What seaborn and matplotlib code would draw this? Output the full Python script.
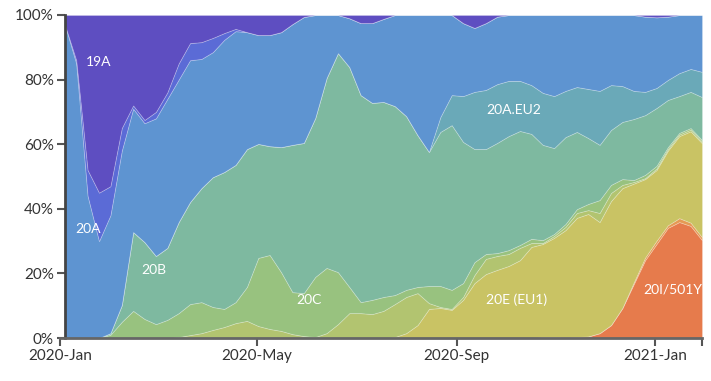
import numpy as np
import pandas as pd
import matplotlib
matplotlib.use("Agg")
import matplotlib.pyplot as plt
from matplotlib.ticker import PercentFormatter, FixedLocator
import seaborn as sns

# weekly clade frequencies (percent)
weeks = pd.date_range("2020-01-04", periods=57, freq="7D")

clade_20I = [0] * 42 + [0.3, 0.3, 0.2, 0.3, 0.5, 1.5, 4, 9.3, 16.7, 24.1, 29.1, 34.1, 35.9, 34.7, 30.3]
clade_20H = [0] * 50 + [0.5, 0.8, 1, 0.8, 1.2, 1, 0.9]
clade_20E = [0] * 29 + [0.3, 1.5, 4, 9, 9.3, 8.7, 11.8, 17, 19.8, 21.1, 22.3, 24.1, 28.2, 28.8,
                        30.7, 33.2, 36.9, 37.9, 34.4, 38.4, 37.1, 30.6, 24.3, 21.9, 23.1, 25.4, 28.3, 29.1]
clade_20D = [0] * 10 + [0.3, 0.9, 1.5, 2.5, 3.4, 4.6, 5.3, 3.7, 2.8, 2.2, 1.2, 0.6, 0.3, 1.5, 4.3,
                        7.7, 7.7, 7.4, 8.4, 10.2, 11.2, 9.9, 1.8, 0.3, 0.3, 0.9, 2.5, 4.7, 4.3, 3.7,
                        3.8, 1.2, 0.3, 0.6, 1, 1.5, 1.2, 2.8, 2.5, 1, 0.5, 0.3, 0.5, 0.5, 0.5, 0.5, 0.5]
clade_20C = [0] * 4 + [1, 5, 8.4, 5.9, 4.3, 5.6, 7.4, 9.6, 9.6, 7.1, 5.6, 6.5, 10.5, 21.1, 22.9,
                       18.2, 13, 13.3, 18.6, 20.2, 16.1, 8.1, 3.4, 4.4, 4.3, 2.8, 2.2, 1.9, 5.3, 6.5,
                       5.9, 4.3, 4, 1.5, 0.9, 1.2, 0.9, 1.3, 0.9, 0.6, 0.9, 1.2, 1.9, 4, 2.5, 1.8,
                       0.6, 1, 0.8, 0.6, 0.5, 0.5, 0.5]
clade_20B = [0] * 4 + [0.5, 5.2, 24.4, 23.8, 21.1, 22.3, 28.2, 31.6, 35.3, 40.2, 42.4, 42.5, 42.7,
                       35.3, 33.7, 38.7, 45.6, 46.5, 49.2, 58.8, 67.8, 68.1, 64.1, 61, 60.4, 58.5,
                       53.8, 47, 41.5, 47.7, 51, 43.7, 35, 32.5, 34.1, 35.3, 35.3, 32.5, 29.5, 26.6,
                       26.9, 23.9, 20.4, 17.1, 17, 17.7, 18.9, 18.5, 17.9, 14.6, 11.4, 11.2, 13.3]
clade_20A_EU2 = [0] * 33 + [4.6, 9.3, 14.2, 17.7, 18.3, 18.2, 17.1, 15.5, 15.1, 16.1, 16.1, 14.3,
                            13.9, 15.2, 16.7, 13.9, 11.1, 8.7, 7.2, 6.2, 6.2, 7.1, 7.1, 7.8]
clade_20A = [97, 85, 44, 30, 36.5, 47.8, 38.2, 36.8, 42.6, 46.1, 44.1, 43.9, 40, 38.7, 40.9, 41.4,
             36.2, 33.7, 34.4, 35.6, 37.4, 39, 31.9, 19.5, 11.8, 15.1, 22.3, 24.7, 25.7, 28.2,
             31.3, 37.2, 42.4, 31.6, 24.8, 22.6, 19.8, 20.7, 20.9, 20.4, 20.4, 21.7, 24.1, 25.1,
             23.5, 22.3, 22.9, 23.5, 21.7, 22, 23.5, 23.3, 21.9, 19.6, 18, 16.7, 17.6]
clade_19B = [0, 1, 8, 15, 9, 7, 1, 1, 2, 2, 5, 5.3, 5.2, 4.4, 2.1, 0.7] + [0] * 41

clade_names = ["20I/501Y.V1", "20H/501Y.V2", "20E (EU1)", "20D", "20C", "20B",
               "20A.EU2", "20A", "19B", "19A"]
clade_colors = ["#E67B4C", "#E59A54", "#C9C364", "#B2C470", "#98C27F", "#7EB9A0",
                "#6AA9B8", "#5E94D1", "#5B6BD6", "#5E4EC1"]

stack = np.array([clade_20I, clade_20H, clade_20E, clade_20D, clade_20C,
                  clade_20B, clade_20A_EU2, clade_20A, clade_19B], dtype=float)
clade_19A = np.clip(100 - stack.sum(axis=0), 0, None)
stack = np.vstack([stack, clade_19A])
stack = stack / stack.sum(axis=0) * 100

sns.set_theme(style="ticks")
plt.rcParams["font.family"] = ["Lato", "DejaVu Sans"]

fig = plt.figure(figsize=(7.11, 3.81), dpi=100)
ax = fig.add_axes([60 / 711, 1 - 338 / 381, (702 - 60) / 711, (338 - 15) / 381])

ax.stackplot(weeks, stack, colors=clade_colors, labels=clade_names,
             linewidth=0.6, edgecolor=(1, 1, 1, 0.25))

ax.set_xlim(pd.Timestamp("2020-01-01"), weeks[-1])
ax.set_ylim(0, 100)
ax.yaxis.set_major_locator(FixedLocator([0, 20, 40, 60, 80, 100]))
ax.yaxis.set_major_formatter(PercentFormatter(decimals=0))

tick_dates = pd.to_datetime(["2020-01-01", "2020-05-01", "2020-09-01", "2021-01-01"])
ax.set_xticks(tick_dates)
ax.set_xticklabels(["2020-Jan", "2020-May", "2020-Sep", "2021-Jan"])
ax.set_xticks([weeks[-1]], minor=True)

ax.tick_params(axis="both", which="both", length=6, width=1.5, color="#555555",
               labelsize=11, labelcolor="#333333", pad=2)
sns.despine(ax=ax)
# y axis sits where the data starts, like the original d3 axis
ax.spines["left"].set_position(("data", mdates_num := matplotlib.dates.date2num(weeks[0])))
ax.spines["left"].set_color("#444444")
ax.spines["left"].set_linewidth(2)
ax.spines["bottom"].set_color("#666666")
ax.spines["bottom"].set_linewidth(2)

# in-area clade labels
labels = [
    ("19A", "2020-01-25", 85.5, "center"),
    ("20A", "2020-01-18", 33.7, "center"),
    ("20B", "2020-02-28", 21.0, "center"),
    ("20C", "2020-06-02", 11.8, "center"),
    ("20A.EU2", "2020-10-06", 70.6, "center"),
    ("20E (EU1)", "2020-10-08", 11.8, "center"),
]
for text, date, y, ha in labels:
    ax.text(pd.Timestamp(date), y, text, color="white", fontsize=10,
            ha=ha, va="center")
ax.text(weeks[-1], 14.9, "20I/501Y", color="white", fontsize=10, ha="right", va="center")

fig.savefig("out.png", dpi=100)
